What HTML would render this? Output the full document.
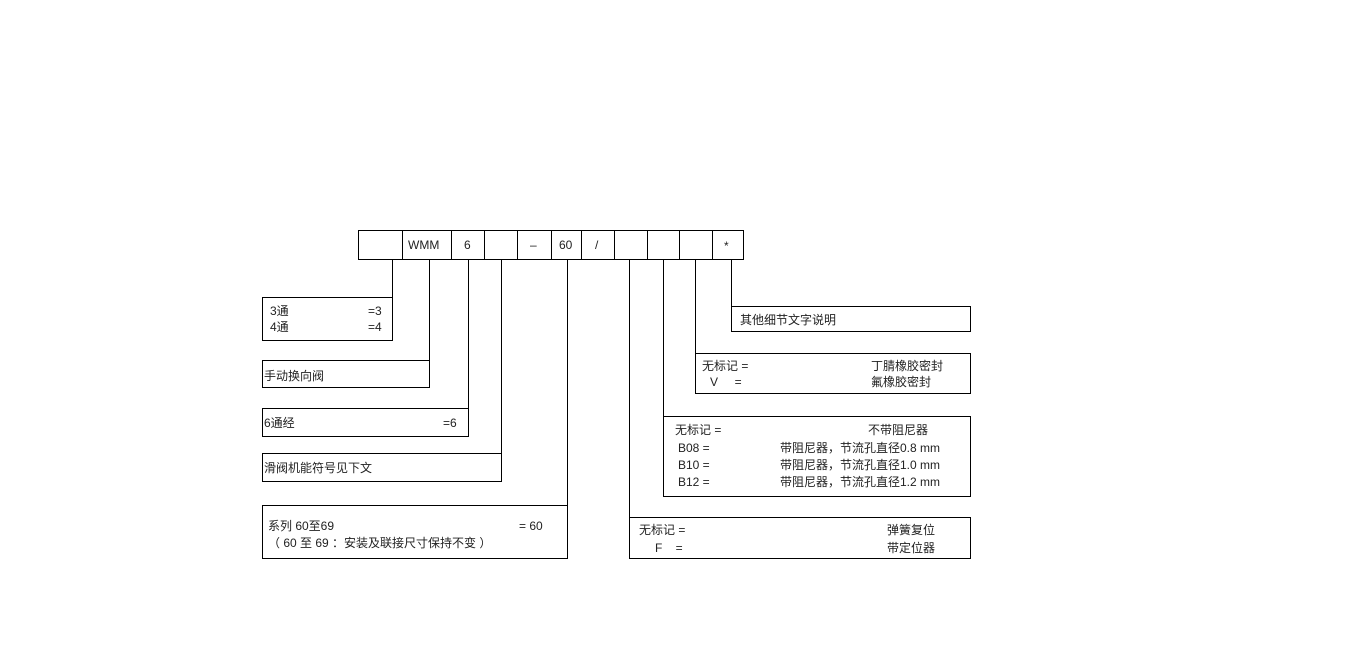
<!DOCTYPE html>
<html><head><meta charset="utf-8"><style>
html,body{margin:0;padding:0;background:#fff;}
svg text{font-family:"Liberation Sans","Noto Sans CJK SC",sans-serif;font-size:12px;fill:#222;}
</style></head><body>
<svg width="1360" height="658" viewBox="0 0 1360 658" xmlns="http://www.w3.org/2000/svg">
<g fill="none" stroke="#000" stroke-width="1">
<rect x="358.5" y="230.5" width="385" height="29"/>
<path d="M402.5 230v30M451.5 230v30M484.5 230v30M517.5 230v30M551.5 230v30M581.5 230v30M614.5 230v30M647.5 230v30M679.5 230v30M712.5 230v30"/>
<path d="M392.5 260v37M429.5 260v100M468.5 260v148M501.5 260v193M567.5 260v245M629.5 260v257M663.5 260v156M695.5 260v93M731.5 260v46"/>
<rect x="262.5" y="297.5" width="130" height="43"/>
<rect x="262.5" y="360.5" width="167" height="27"/>
<rect x="262.5" y="408.5" width="206" height="28"/>
<rect x="262.5" y="453.5" width="239" height="28"/>
<rect x="262.5" y="505.5" width="305" height="53"/>
<rect x="731.5" y="306.5" width="239" height="25"/>
<rect x="695.5" y="353.5" width="275" height="40"/>
<rect x="663.5" y="416.5" width="307" height="80"/>
<rect x="629.5" y="517.5" width="341" height="41"/>
</g>
<text x="408" y="249">WMM</text>
<text x="464" y="249">6</text>
<text x="530" y="249">–</text>
<text x="559" y="249">60</text>
<text x="595" y="249">/</text>
<text x="724" y="250">*</text>
<text x="270" y="315">3通</text><text x="368" y="315">=3</text>
<text x="270" y="331">4通</text><text x="368" y="331">=4</text>
<text x="264" y="380">手动换向阀</text>
<text x="264" y="427">6通经</text><text x="443" y="427">=6</text>
<text x="264" y="472">滑阀机能符号见下文</text>
<text x="268" y="530">系列 60至69</text><text x="519" y="530">= 60</text>
<text x="268" y="547">（ 60 至 69 ：安装及联接尺寸保持不变 ）</text>
<text x="740" y="324">其他细节文字说明</text>
<text x="702" y="370">无标记 =</text><text x="871" y="370">丁腈橡胶密封</text>
<text x="710" y="386">V&#160;&#160;&#160;&#160;&#160;=</text><text x="871" y="386">氟橡胶密封</text>
<text x="675" y="434">无标记 =</text><text x="868" y="434">不带阻尼器</text>
<text x="678" y="452">B08 =</text><text x="780" y="452">带阻尼器，节流孔直径0.8 mm</text>
<text x="678" y="469">B10 =</text><text x="780" y="469">带阻尼器，节流孔直径1.0 mm</text>
<text x="678" y="486">B12 =</text><text x="780" y="486">带阻尼器，节流孔直径1.2 mm</text>
<text x="639" y="534">无标记 =</text><text x="887" y="534">弹簧复位</text>
<text x="655" y="552">F&#160;&#160;&#160;&#160;=</text><text x="887" y="552">带定位器</text>
</svg>
</body></html>
